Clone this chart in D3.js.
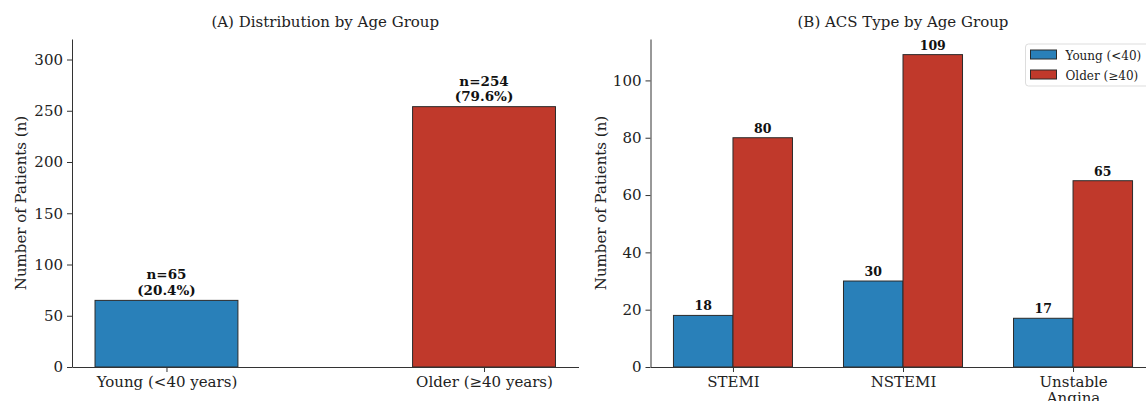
<!DOCTYPE html>
<html>
<head>
<meta charset="utf-8">
<script src="https://cdn.jsdelivr.net/npm/d3@7"></script>
<style>
  body { margin: 0; background: #fff; }
  svg { display: block; font-family: "DejaVu Serif", serif; }
</style>
</head>
<body>
<div id="chart"></div>
<script>
// Panel A data
var groups = ["Young (<40 years)", "Older (\u226540 years)"];
var groupCounts = [65, 254];
var groupPct = ["20.4%", "79.6%"];

// Panel B data
var acsTypes = ["STEMI", "NSTEMI", "Unstable\nAngina"];
var youngCounts = [18, 30, 17];
var olderCounts = [80, 109, 65];
var seriesNames = ["Young (<40)", "Older (\u226540)"];

var yTicksA = [0, 50, 100, 150, 200, 250, 300];
var yTicksB = [0, 20, 40, 60, 80, 100];

var colors = ["#2980b9", "#c0392b"];
var edge = "#2b2b2b";
var axisColor = "#333";
var fs = "15px";

var W = 1146, H = 401;
var plotTop = 39, base = 367;

var svg = d3.select("#chart").append("svg")
  .attr("width", W).attr("height", H);

function styleAxis(g) {
  g.attr("font-family", "DejaVu Serif");
  g.select(".domain").attr("stroke", axisColor).attr("stroke-width", 1);
  g.selectAll(".tick line").attr("stroke", axisColor);
  g.selectAll(".tick text").attr("fill", "#222")
    .style("font-family", "DejaVu Serif").style("font-size", fs);
}

// ---------- Panel A ----------
var xA = d3.scaleLinear().domain([-0.2975, 1.2975]).range([72, 578.5]);
var yA = d3.scaleLinear().domain([0, 320]).range([base, plotTop]);
var pxA = xA(1) - xA(0);
var bwA = 0.45 * pxA;

var gA = svg.append("g");

gA.selectAll("rect.barA")
  .data(groupCounts)
  .enter().append("rect")
    .attr("class", "barA")
    .attr("x", function(d, i) { return xA(i) - bwA / 2; })
    .attr("y", function(d) { return yA(d); })
    .attr("width", bwA)
    .attr("height", function(d) { return yA(0) - yA(d); })
    .attr("fill", function(d, i) { return colors[i]; })
    .attr("stroke", edge).attr("stroke-width", 1);

gA.selectAll("text.lblA")
  .data(groupCounts)
  .enter().append("text")
    .attr("class", "lblA")
    .attr("x", function(d, i) { return xA(i); })
    .attr("y", function(d) { return yA(d) - 21; })
    .attr("text-anchor", "middle").attr("fill", "#111")
    .style("font-weight", "bold").style("font-size", "13.5px")
    .each(function(d, i) {
      var t = d3.select(this);
      t.append("tspan").attr("x", xA(i)).text("n=" + d);
      t.append("tspan").attr("x", xA(i)).attr("dy", 15.5).text("(" + groupPct[i] + ")");
    });

var yAxisA = gA.append("g")
  .attr("transform", "translate(" + xA.range()[0] + ",0)")
  .call(d3.axisLeft(yA).tickValues(yTicksA).tickSize(5).tickPadding(4).tickSizeOuter(0));
styleAxis(yAxisA);

var xAxisA = gA.append("g")
  .attr("transform", "translate(0," + base + ")")
  .call(d3.axisBottom(xA).tickValues([0, 1]).tickFormat(function(d) { return groups[d]; })
    .tickSize(5).tickPadding(4).tickSizeOuter(0));
styleAxis(xAxisA);

gA.append("text")
  .attr("x", (xA.range()[0] + xA.range()[1]) / 2).attr("y", 27)
  .attr("text-anchor", "middle").style("font-size", fs).attr("fill", "#222")
  .text("(A) Distribution by Age Group");

gA.append("text")
  .attr("transform", "translate(26," + (plotTop + base) / 2 + ") rotate(-90)")
  .attr("text-anchor", "middle").style("font-size", fs).attr("fill", "#222")
  .text("Number of Patients (n)");

// ---------- Panel B ----------
var xB = d3.scaleLinear().domain([-0.485, 2.485]).range([650.5, 1155.5]);
var yB = d3.scaleLinear().domain([0, 114.45]).range([base, plotTop]);
var pxB = xB(1) - xB(0);
var bwB = 0.35 * pxB;

var gB = svg.append("g");
var seriesB = [youngCounts, olderCounts];

seriesB.forEach(function(vals, s) {
  var off = (s === 0 ? -0.5 : 0.5) * bwB;
  gB.selectAll("rect.barB" + s)
    .data(vals)
    .enter().append("rect")
      .attr("x", function(d, i) { return xB(i) + off - bwB / 2; })
      .attr("y", function(d) { return yB(d); })
      .attr("width", bwB)
      .attr("height", function(d) { return yB(0) - yB(d); })
      .attr("fill", colors[s])
      .attr("stroke", edge).attr("stroke-width", 1);

  gB.selectAll("text.lblB" + s)
    .data(vals)
    .enter().append("text")
      .attr("x", function(d, i) { return xB(i) + off; })
      .attr("y", function(d) { return yB(d) - 5; })
      .attr("text-anchor", "middle")
      .style("font-weight", "bold").style("font-size", "12.5px").attr("fill", "#111")
      .text(function(d) { return d; });
});

var yAxisB = gB.append("g")
  .attr("transform", "translate(" + xB.range()[0] + ",0)")
  .call(d3.axisLeft(yB).tickValues(yTicksB).tickSize(5).tickPadding(4).tickSizeOuter(0));
styleAxis(yAxisB);

var xAxisB = gB.append("g")
  .attr("transform", "translate(0," + base + ")")
  .call(d3.axisBottom(xB).tickValues([0, 1, 2]).tickFormat("")
    .tickSize(5).tickPadding(4).tickSizeOuter(0));
styleAxis(xAxisB);
xAxisB.selectAll(".tick").each(function(d) {
  var t = d3.select(this).append("text")
    .attr("text-anchor", "middle").attr("fill", "#222")
    .style("font-family", "DejaVu Serif")
    .style("font-size", fs).attr("y", 20);
  acsTypes[d].split("\n").forEach(function(line, k) {
    t.append("tspan").attr("x", 0).attr("dy", k === 0 ? 0 : 16).text(line);
  });
});

gB.append("text")
  .attr("x", (xB.range()[0] + xB.range()[1]) / 2).attr("y", 27)
  .attr("text-anchor", "middle").style("font-size", fs).attr("fill", "#222")
  .text("(B) ACS Type by Age Group");

gB.append("text")
  .attr("transform", "translate(606," + (plotTop + base) / 2 + ") rotate(-90)")
  .attr("text-anchor", "middle").style("font-size", fs).attr("fill", "#222")
  .text("Number of Patients (n)");

// legend
var leg = gB.append("g").attr("transform", "translate(1025.5,44)");
leg.append("rect")
  .attr("width", 128).attr("height", 42).attr("rx", 3)
  .attr("fill", "#fff").attr("fill-opacity", 0.8)
  .attr("stroke", "#ddd");
seriesNames.forEach(function(name, s) {
  var row = leg.append("g").attr("transform", "translate(5," + (6 + s * 20) + ")");
  row.append("rect").attr("width", 26).attr("height", 9)
    .attr("fill", colors[s]).attr("stroke", edge).attr("stroke-width", 1);
  row.append("text").attr("x", 35).attr("y", 9.5)
    .style("font-size", "12px").attr("fill", "#222").text(name);
});
</script>
</body>
</html>
